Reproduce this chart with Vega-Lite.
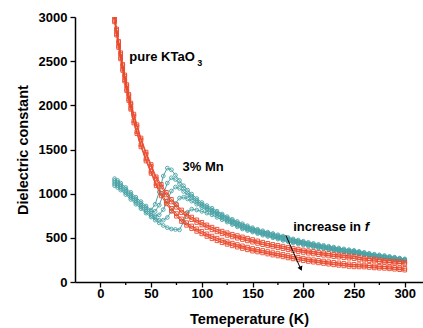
{
  "$schema": "https://vega.github.io/schema/vega-lite/v6.json",
  "width": 348,
  "height": 265,
  "autosize": {"type": "none"},
  "padding": {"left": 75, "top": 17, "right": 0, "bottom": 46},
  "background": "white",
  "config": {
    "view": {"stroke": null},
    "font": "Liberation Sans",
    "axis": {
      "domainColor": "black", "domainWidth": 1.5, "tickColor": "black", "tickWidth": 1.3,
      "labelFont": "Liberation Sans", "labelFontWeight": "bold", "labelFontSize": 13, "labelColor": "black",
      "titleFont": "Liberation Sans", "titleFontWeight": "bold", "titleFontSize": 14.5, "titleColor": "black",
      "grid": false, "labelOverlap": false, "labelFlush": false
    }
  },
  "datasets": {
    "red": [
      {"T":14,"a":3015,"b":2999,"c":2961,"d":2945},
      {"T":16,"a":2865,"b":2849,"c":2811,"d":2795},
      {"T":18,"a":2725,"b":2709,"c":2671,"d":2655},
      {"T":20,"a":2595,"b":2579,"c":2541,"d":2525},
      {"T":22,"a":2465,"b":2449,"c":2411,"d":2395},
      {"T":24,"a":2345,"b":2329,"c":2291,"d":2275},
      {"T":26,"a":2235,"b":2219,"c":2181,"d":2165},
      {"T":28,"a":2125,"b":2109,"c":2071,"d":2055},
      {"T":30,"a":2025,"b":2009,"c":1971,"d":1955},
      {"T":33,"a":1900,"b":1878,"c":1822,"d":1800},
      {"T":36,"a":1780,"b":1758,"c":1702,"d":1680},
      {"T":40,"a":1630,"b":1608,"c":1552,"d":1530},
      {"T":45,"a":1470,"b":1448,"c":1392,"d":1370},
      {"T":50,"a":1330,"b":1308,"c":1252,"d":1230},
      {"T":55,"a":1190,"b":1168,"c":1112,"d":1090},
      {"T":60,"a":1105,"b":1076,"c":1004,"d":975},
      {"T":65,"a":1015,"b":986,"c":914,"d":885},
      {"T":70,"a":935,"b":906,"c":834,"d":805},
      {"T":75,"a":875,"b":846,"c":774,"d":745},
      {"T":80,"a":815,"b":786,"c":714,"d":685},
      {"T":85,"a":772,"b":743,"c":671,"d":642},
      {"T":90,"a":735,"b":706,"c":634,"d":605},
      {"T":95,"a":703,"b":674,"c":602,"d":573},
      {"T":100,"a":675,"b":646,"c":574,"d":545},
      {"T":105,"a":646,"b":617,"c":545,"d":516},
      {"T":110,"a":620,"b":591,"c":519,"d":490},
      {"T":115,"a":597,"b":568,"c":496,"d":467},
      {"T":120,"a":575,"b":546,"c":474,"d":445},
      {"T":125,"a":557,"b":528,"c":456,"d":427},
      {"T":130,"a":540,"b":511,"c":439,"d":410},
      {"T":135,"a":525,"b":496,"c":424,"d":395},
      {"T":140,"a":510,"b":481,"c":409,"d":380},
      {"T":145,"a":495,"b":466,"c":394,"d":365},
      {"T":150,"a":480,"b":451,"c":379,"d":350},
      {"T":155,"a":465,"b":437,"c":368,"d":340},
      {"T":160,"a":450,"b":423,"c":357,"d":330},
      {"T":165,"a":437,"b":410,"c":344,"d":317},
      {"T":170,"a":425,"b":398,"c":332,"d":305},
      {"T":175,"a":415,"b":388,"c":322,"d":295},
      {"T":180,"a":405,"b":378,"c":312,"d":285},
      {"T":185,"a":393,"b":366,"c":300,"d":273},
      {"T":190,"a":382,"b":355,"c":289,"d":262},
      {"T":195,"a":372,"b":345,"c":279,"d":252},
      {"T":200,"a":362,"b":335,"c":269,"d":242},
      {"T":205,"a":353,"b":326,"c":260,"d":233},
      {"T":210,"a":345,"b":318,"c":252,"d":225},
      {"T":215,"a":337,"b":310,"c":244,"d":217},
      {"T":220,"a":330,"b":303,"c":237,"d":210},
      {"T":225,"a":322,"b":295,"c":229,"d":202},
      {"T":230,"a":315,"b":288,"c":222,"d":195},
      {"T":235,"a":309,"b":282,"c":216,"d":189},
      {"T":240,"a":303,"b":276,"c":210,"d":183},
      {"T":245,"a":297,"b":270,"c":204,"d":177},
      {"T":250,"a":292,"b":265,"c":199,"d":172},
      {"T":255,"a":281,"b":256,"c":195,"d":171},
      {"T":260,"a":270,"b":248,"c":192,"d":170},
      {"T":265,"a":265,"b":243,"c":187,"d":165},
      {"T":270,"a":260,"b":238,"c":182,"d":160},
      {"T":275,"a":252,"b":231,"c":178,"d":157},
      {"T":280,"a":245,"b":225,"c":175,"d":155},
      {"T":285,"a":240,"b":220,"c":170,"d":150},
      {"T":290,"a":235,"b":215,"c":165,"d":145},
      {"T":295,"a":230,"b":210,"c":160,"d":140},
      {"T":300,"a":225,"b":205,"c":155,"d":135}
    ],
    "teal": [
      {"T":14,"a":1170,"b":1150,"c":1130,"d":1110,"e":1090},
      {"T":17,"a":1150,"b":1130,"c":1110,"d":1090,"e":1070},
      {"T":20,"a":1120,"b":1100,"c":1080,"d":1060,"e":1040},
      {"T":25,"a":1070,"b":1050,"c":1030,"d":1010,"e":990},
      {"T":30,"a":1015,"b":995,"c":975,"d":955,"e":935},
      {"T":35,"a":960,"b":940,"c":920,"d":900,"e":880},
      {"T":40,"a":910,"b":890,"c":870,"d":850,"e":830},
      {"T":45,"a":860,"b":840,"c":820,"d":800,"e":780},
      {"T":50,"a":815,"b":795,"c":775,"d":755,"e":735},
      {"T":54,"a":880,"b":800,"c":750,"d":725,"e":700},
      {"T":58,"a":1020,"b":870,"c":760,"d":700,"e":670},
      {"T":62,"a":1200,"b":990,"c":820,"d":700,"e":640},
      {"T":66,"a":1290,"b":1120,"c":920,"d":730,"e":615},
      {"T":70,"a":1270,"b":1180,"c":1030,"d":800,"e":600},
      {"T":74,"a":1210,"b":1160,"c":1075,"d":890,"e":595},
      {"T":78,"a":1150,"b":1110,"c":1060,"d":950,"e":590},
      {"T":82,"a":1090,"b":1060,"c":1025,"d":960,"e":680},
      {"T":86,"a":1040,"b":1010,"c":985,"d":940,"e":790},
      {"T":90,"a":995,"b":970,"c":950,"d":915,"e":825},
      {"T":95,"a":945,"b":925,"c":905,"d":880,"e":815},
      {"T":100,"a":900,"b":880,"c":865,"d":845,"e":800},
      {"T":105,"a":866,"b":847,"c":832,"d":815,"e":780},
      {"T":110,"a":835,"b":815,"c":800,"d":785,"e":760},
      {"T":115,"a":802,"b":785,"c":770,"d":755,"e":732},
      {"T":120,"a":770,"b":755,"c":740,"d":725,"e":705},
      {"T":125,"a":740,"b":725,"c":710,"d":695,"e":678},
      {"T":130,"a":710,"b":695,"c":680,"d":665,"e":650},
      {"T":135,"a":685,"b":670,"c":655,"d":640,"e":625},
      {"T":140,"a":660,"b":645,"c":630,"d":615,"e":600},
      {"T":145,"a":637,"b":624,"c":610,"d":596,"e":582},
      {"T":150,"a":615,"b":603,"c":590,"d":577,"e":565},
      {"T":155,"a":597,"b":585,"c":572,"d":559,"e":547},
      {"T":160,"a":580,"b":568,"c":555,"d":542,"e":530},
      {"T":165,"a":565,"b":553,"c":540,"d":527,"e":515},
      {"T":170,"a":550,"b":538,"c":525,"d":512,"e":500},
      {"T":175,"a":535,"b":523,"c":510,"d":497,"e":485},
      {"T":180,"a":520,"b":508,"c":495,"d":482,"e":470},
      {"T":185,"a":504,"b":492,"c":480,"d":467,"e":456},
      {"T":190,"a":488,"b":477,"c":465,"d":453,"e":442},
      {"T":195,"a":475,"b":464,"c":452,"d":441,"e":430},
      {"T":200,"a":462,"b":451,"c":440,"d":429,"e":418},
      {"T":205,"a":449,"b":438,"c":427,"d":416,"e":405},
      {"T":210,"a":437,"b":426,"c":415,"d":404,"e":393},
      {"T":215,"a":426,"b":415,"c":405,"d":394,"e":384},
      {"T":220,"a":415,"b":405,"c":395,"d":385,"e":375},
      {"T":225,"a":405,"b":395,"c":385,"d":375,"e":365},
      {"T":230,"a":395,"b":385,"c":375,"d":365,"e":355},
      {"T":235,"a":385,"b":375,"c":365,"d":355,"e":345},
      {"T":240,"a":375,"b":365,"c":355,"d":345,"e":335},
      {"T":245,"a":366,"b":357,"c":348,"d":338,"e":328},
      {"T":250,"a":358,"b":349,"c":340,"d":331,"e":322},
      {"T":255,"a":347,"b":338,"c":330,"d":321,"e":313},
      {"T":260,"a":336,"b":328,"c":320,"d":312,"e":304},
      {"T":265,"a":325,"b":318,"c":310,"d":302,"e":294},
      {"T":270,"a":315,"b":308,"c":300,"d":292,"e":285},
      {"T":275,"a":307,"b":300,"c":292,"d":285,"e":278},
      {"T":280,"a":299,"b":292,"c":285,"d":278,"e":271},
      {"T":285,"a":290,"b":283,"c":276,"d":270,"e":263},
      {"T":290,"a":281,"b":274,"c":268,"d":262,"e":255},
      {"T":295,"a":271,"b":265,"c":259,"d":253,"e":247},
      {"T":300,"a":262,"b":256,"c":250,"d":244,"e":238}
    ]
  },
  "layer": [
    {
      "data": {"name": "teal"},
      "transform": [{"fold": ["a","b","c","d","e"], "as": ["curve","eps"]}],
      "layer": [
        {
          "mark": {"type": "line", "color": "#4aa3a6", "strokeWidth": 1, "clip": true},
          "encoding": {
            "x": {"field": "T", "type": "quantitative", "scale": {"domain": [-25, 318], "nice": false, "zero": false},
              "axis": {"title": "Temeperature (K)", "values": [0,50,100,150,200,250,300],
                "format": "d", "labelOverlap": false, "tickSize": 5,
                "labelPadding": 0, "titlePadding": 12}},
            "y": {"field": "eps", "type": "quantitative", "scale": {"domain": [0, 3000], "nice": false},
              "axis": {"title": "Dielectric constant", "values": [0,250,500,750,1000,1250,1500,1750,2000,2250,2500,2750,3000],
                "format": "d", "labelOverlap": false,
                "labelExpr": "datum.value % 500 === 0 ? datum.label : ''",
                "tickSize": {"condition": {"test": "datum.value % 500 === 0", "value": 5}, "value": 3},
                "labelPadding": 3, "titlePadding": 8}},
            "detail": {"field": "curve"}
          }
        },
        {
          "mark": {"type": "point", "shape": "circle", "filled": false, "color": "#4aa3a6", "size": 14, "strokeWidth": 0.9, "opacity": 1, "clip": true},
          "encoding": {
            "x": {"field": "T", "type": "quantitative"},
            "y": {"field": "eps", "type": "quantitative"}
          }
        }
      ]
    },
    {
      "data": {"name": "red"},
      "transform": [{"fold": ["a","b","c","d"], "as": ["curve","eps"]}],
      "layer": [
        {
          "mark": {"type": "line", "color": "#ea4a2c", "strokeWidth": 1, "clip": true},
          "encoding": {
            "x": {"field": "T", "type": "quantitative"},
            "y": {"field": "eps", "type": "quantitative"},
            "detail": {"field": "curve"}
          }
        },
        {
          "mark": {"type": "point", "shape": "square", "filled": false, "color": "#ea4a2c", "size": 14, "strokeWidth": 0.9, "opacity": 1, "clip": true},
          "encoding": {
            "x": {"field": "T", "type": "quantitative"},
            "y": {"field": "eps", "type": "quantitative"}
          }
        }
      ]
    },
    {
      "data": {"values": [{"T": 25}, {"T": 75}, {"T": 125}, {"T": 175}, {"T": 225}, {"T": 275}]},
      "mark": {"type": "rule", "color": "black", "strokeWidth": 1.3},
      "encoding": {
        "x": {"field": "T", "type": "quantitative"},
        "y": {"datum": 0, "type": "quantitative"},
        "y2": {"datum": -34}
      }
    },
    {
      "data": {"values": [
        {"T": 28.5, "eps": 2545, "label": "pure KTaO"},
        {"T": 81, "eps": 1300, "label": "3% Mn"},
        {"T": 190, "eps": 620, "label": "increase in "}
      ]},
      "mark": {"type": "text", "align": "left", "baseline": "middle", "fontSize": 13, "fontWeight": "bold", "color": "black", "font": "Liberation Sans"},
      "encoding": {
        "x": {"field": "T", "type": "quantitative"},
        "y": {"field": "eps", "type": "quantitative"},
        "text": {"field": "label"}
      }
    },
    {
      "data": {"values": [{"T": 95.5, "eps": 2480, "label": "3"}]},
      "mark": {"type": "text", "align": "left", "baseline": "middle", "fontSize": 9, "fontWeight": "bold", "color": "black", "font": "Liberation Sans"},
      "encoding": {
        "x": {"field": "T", "type": "quantitative"},
        "y": {"field": "eps", "type": "quantitative"},
        "text": {"field": "label"}
      }
    },
    {
      "data": {"values": [{"T": 260.5, "eps": 620, "label": "f"}]},
      "mark": {"type": "text", "align": "left", "baseline": "middle", "fontSize": 13, "fontWeight": "bold", "fontStyle": "italic", "color": "black", "font": "Liberation Sans"},
      "encoding": {
        "x": {"field": "T", "type": "quantitative"},
        "y": {"field": "eps", "type": "quantitative"},
        "text": {"field": "label"}
      }
    },
    {
      "data": {"values": [{"T": 182.7, "eps": 532, "T2": 197.8, "eps2": 140}]},
      "mark": {"type": "rule", "color": "black", "strokeWidth": 1},
      "encoding": {
        "x": {"field": "T", "type": "quantitative"},
        "y": {"field": "eps", "type": "quantitative"},
        "x2": {"field": "T2"},
        "y2": {"field": "eps2"}
      }
    },
    {
      "data": {"values": [{"T": 197.6, "eps": 150}]},
      "mark": {"type": "point", "shape": "triangle-down", "filled": true, "color": "black", "size": 28, "angle": 336, "opacity": 1},
      "encoding": {
        "x": {"field": "T", "type": "quantitative"},
        "y": {"field": "eps", "type": "quantitative"}
      }
    }
  ]
}
